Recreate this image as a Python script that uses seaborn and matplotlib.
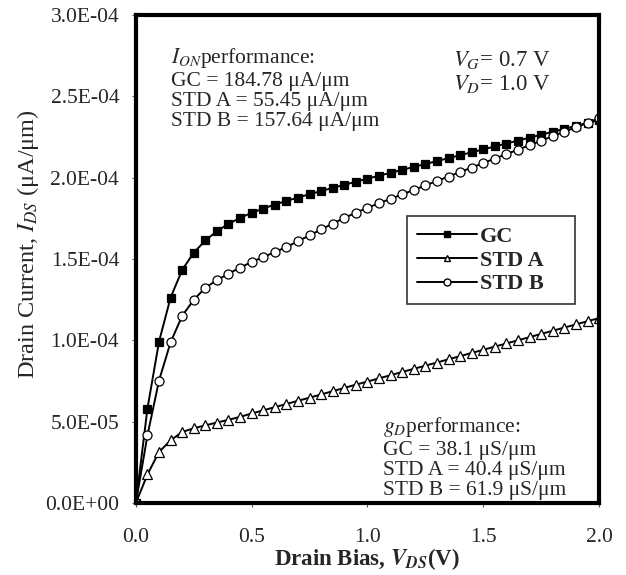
import matplotlib
matplotlib.use("Agg")
import matplotlib.pyplot as plt
from matplotlib.ticker import FuncFormatter, MultipleLocator
from matplotlib.lines import Line2D
import seaborn as sns
import pandas as pd

vds = [0.00, 0.05, 0.10, 0.15, 0.20, 0.25, 0.30, 0.35, 0.40, 0.45,
       0.50, 0.55, 0.60, 0.65, 0.70, 0.75, 0.80, 0.85, 0.90, 0.95,
       1.00, 1.05, 1.10, 1.15, 1.20, 1.25, 1.30, 1.35, 1.40, 1.45,
       1.50, 1.55, 1.60, 1.65, 1.70, 1.75, 1.80, 1.85, 1.90, 1.95, 2.00]

gc = [0.000, 0.580, 0.992, 1.263, 1.433, 1.539, 1.614, 1.671, 1.716, 1.753,
      1.784, 1.810, 1.835, 1.857, 1.878, 1.898, 1.918, 1.937, 1.956, 1.975,
      1.994, 2.012, 2.030, 2.048, 2.066, 2.084, 2.102, 2.120, 2.138, 2.156,
      2.174, 2.192, 2.210, 2.228, 2.246, 2.264, 2.282, 2.300, 2.318, 2.336, 2.354]

std_a = [0.000, 0.176, 0.314, 0.386, 0.437, 0.460, 0.478, 0.495, 0.512, 0.530,
         0.551, 0.570, 0.590, 0.609, 0.629, 0.648, 0.668, 0.688, 0.708, 0.728,
         0.747, 0.767, 0.786, 0.806, 0.825, 0.845, 0.864, 0.884, 0.903, 0.923,
         0.942, 0.962, 0.981, 1.001, 1.020, 1.040, 1.059, 1.079, 1.098, 1.118, 1.137]

std_b = [0.000, 0.416, 0.753, 0.988, 1.151, 1.249, 1.324, 1.370, 1.410, 1.447,
         1.482, 1.512, 1.543, 1.573, 1.610, 1.645, 1.682, 1.718, 1.752, 1.785,
         1.815, 1.843, 1.870, 1.897, 1.925, 1.952, 1.980, 2.007, 2.035, 2.062,
         2.090, 2.117, 2.145, 2.172, 2.200, 2.227, 2.255, 2.282, 2.310, 2.337, 2.365]

series_names = ["GC", "STD A", "STD B"]
scale = 1e-4

sns.set_style("white")
plt.rcParams["font.family"] = ["Liberation Serif", "DejaVu Serif"]
plt.rcParams["mathtext.fontset"] = "stix"

frames = []
for name, vals in zip(series_names, [gc, std_a, std_b]):
    frames.append(pd.DataFrame({"VDS": vds, "IDS": [v * scale for v in vals], "Device": name}))
df = pd.concat(frames, ignore_index=True)

fig = plt.figure(figsize=(6.26, 5.75), dpi=100)
ax = fig.add_axes([0.217, 0.125, 0.740, 0.849])

styles = {
    "GC": dict(marker="s", markerfacecolor="black", markersize=5.5),
    "STD A": dict(marker="^", markerfacecolor="white", markersize=6.5),
    "STD B": dict(marker="o", markerfacecolor="white", markersize=6.5),
}
for name in series_names:
    sub = df[df["Device"] == name]
    sns.lineplot(data=sub, x="VDS", y="IDS", ax=ax, color="black", linewidth=1.4,
                 markeredgecolor="black", markeredgewidth=0.9, **styles[name])

ax.set_xlim(0, 2.0)
ax.set_ylim(0, 3.0e-4)
ax.xaxis.set_major_locator(MultipleLocator(0.5))
ax.yaxis.set_major_locator(MultipleLocator(5e-5))
ax.xaxis.set_major_formatter(FuncFormatter(lambda v, p: f"{v:.1f}"))
ax.yaxis.set_major_formatter(FuncFormatter(lambda v, p: f"{v:.1E}"))
ax.tick_params(axis="both", labelsize=15.5, length=3, width=0.8, color="#555555",
               direction="out", bottom=True, left=True)
ax.tick_params(axis="x", pad=15)
ax.tick_params(axis="y", pad=9)
for s in ax.spines.values():
    s.set_linewidth(3.0)
    s.set_color("black")

ax.set_xlabel(r"Drain Bias, $\mathbfit{V}_{\mathbfit{DS}}$(V)", fontsize=16.5,
              fontweight="bold", labelpad=-1)
ax.set_ylabel(r"Drain Current, $I_{DS}$ (μA/μm)", fontsize=17.5, labelpad=4)
ax.yaxis.set_label_coords(-0.205, 0.53)

handles = [
    Line2D([], [], color="black", lw=1.4, marker="s", markerfacecolor="black",
           markeredgecolor="black", markersize=5),
    Line2D([], [], color="black", lw=1.4, marker="^", markerfacecolor="white",
           markeredgecolor="black", markersize=5),
    Line2D([], [], color="black", lw=1.4, marker="o", markerfacecolor="white",
           markeredgecolor="black", markersize=5),
]
leg = ax.legend(handles, series_names, loc="upper left",
                bbox_to_anchor=(0.585, 0.422, 0.363, 0.166), mode="expand",
                borderaxespad=0.0,
                frameon=True, fancybox=False, edgecolor="black", handlelength=2.7,
                handletextpad=0.15, borderpad=0.45, labelspacing=0.15,
                prop={"family": "Liberation Serif", "size": 16, "weight": "bold"})
leg.get_frame().set_linewidth(1.2)

ax.text(0.076, 0.936,
        "$I_{ON}$performance:\nGC = 184.78 μA/μm\nSTD A = 55.45 μA/μm\nSTD B = 157.64 μA/μm",
        transform=ax.transAxes, fontsize=15.5, va="top", ha="left", linespacing=1.1)
ax.text(0.685, 0.93, "$V_G$= 0.7 V\n$V_D$= 1.0 V",
        transform=ax.transAxes, fontsize=16.5, va="top", ha="left", linespacing=1.1)
ax.text(0.533, 0.18,
        "$g_D$performance:\nGC = 38.1 μS/μm\nSTD A = 40.4 μS/μm\nSTD B = 61.9 μS/μm",
        transform=ax.transAxes, fontsize=15.5, va="top", ha="left", linespacing=1.1)

fig.savefig("out.png", dpi=100)
